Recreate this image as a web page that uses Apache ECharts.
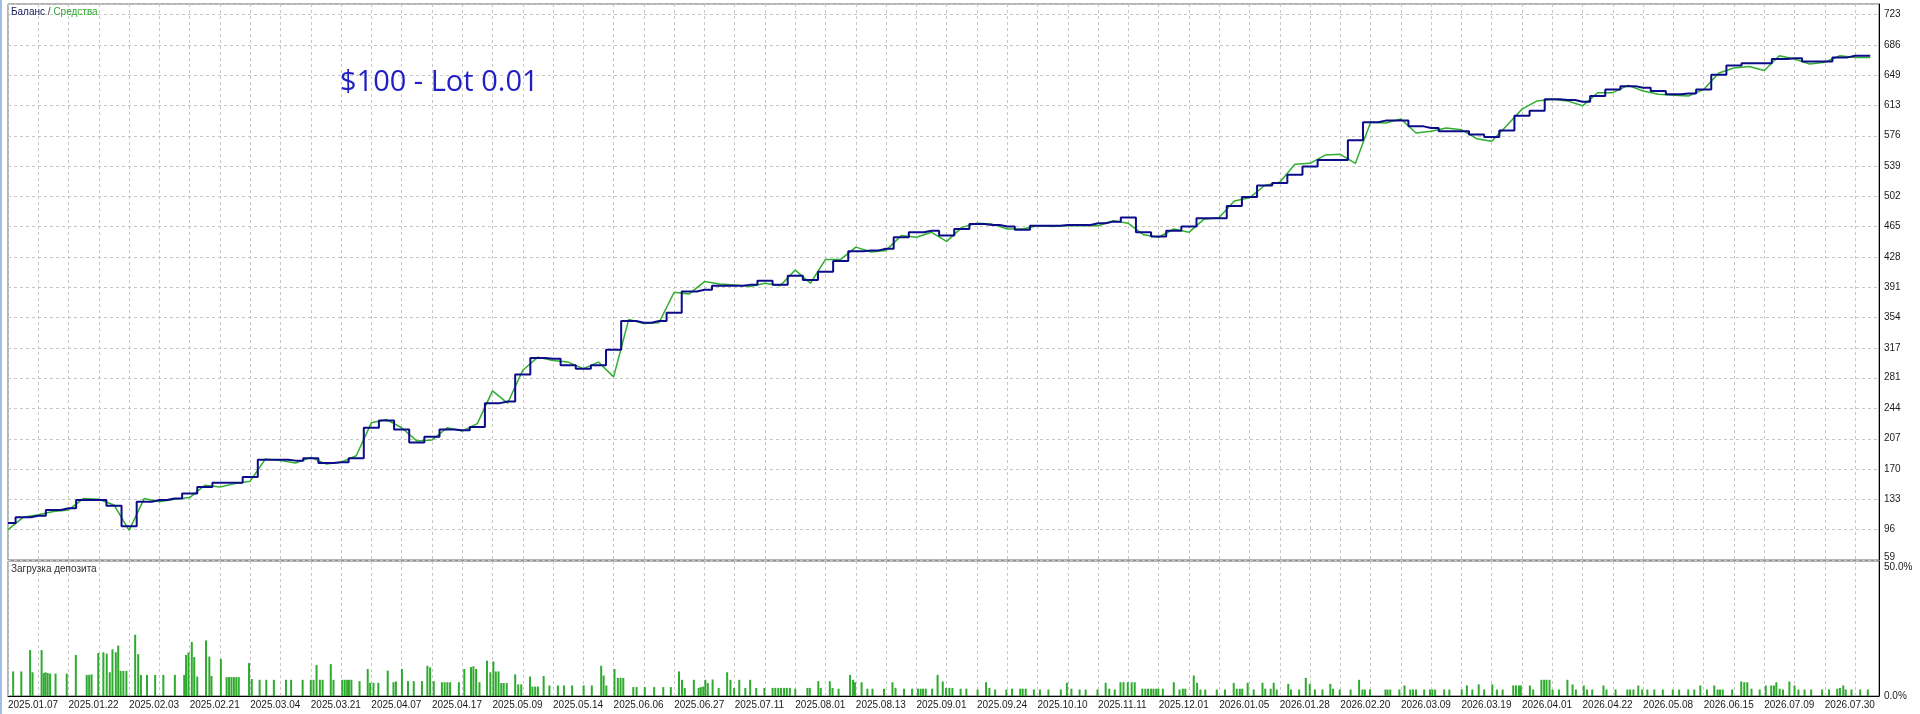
<!DOCTYPE html>
<html>
<head>
<meta charset="utf-8">
<script src="https://cdn.jsdelivr.net/npm/echarts@6/dist/echarts.min.js"></script>
<style>
html,body{margin:0;padding:0;background:#fff;}
#c{width:1920px;height:714px;}
</style>
</head>
<body>
<div id="c"></div>
<script>
// ---- tick labels ----
const dateLabels = ['2025.01.07','2025.01.22','2025.02.03','2025.02.21','2025.03.04','2025.03.21','2025.04.07','2025.04.17','2025.05.09','2025.05.14','2025.06.06','2025.06.27','2025.07.11','2025.08.01','2025.08.13','2025.09.01','2025.09.24','2025.10.10','2025.11.11','2025.12.01','2026.01.05','2026.01.28','2026.02.20','2026.03.09','2026.03.19','2026.04.01','2026.04.22','2026.05.08','2026.06.15','2026.07.09','2026.07.30'];
const yTicks = [59,96,133,170,207,244,281,317,354,391,428,465,502,539,576,613,649,686,723];

// ---- series (sampled every half grid cell) ----
const STEP = 0.5;
const balance = [104,111,113,120,122,132,132,125,100,130,
132,134,140,148,153,153,160,181,181,180,
183,177,178,183,220,229,218,202,209,218,
217,221,250,252,285,305,304,296,292,296,
315,350,348,350,360,386,388,393,393,394,
399,394,405,400,410,423,435,436,438,452,
458,460,454,462,468,467,465,461,466,466,
467,467,469,471,476,458,453,460,465,475,
475,490,501,515,518,528,538,546,546,570,
592,594,594,587,585,581,581,577,574,582,
600,606,620,619,617,624,632,636,634,630,
626,627,632,650,661,664,664,669,670,666,
666,671,673,673];
const equity = [96,111,114,118,120,134,133,126,95,134,
130,133,135,150,148,152,155,182,180,177,
184,176,178,186,226,230,220,204,205,220,
216,225,265,250,290,306,302,300,292,300,
282,352,347,348,385,383,398,395,394,392,
396,393,412,396,425,425,440,434,436,454,
452,458,447,464,469,468,462,462,466,465,
466,466,466,472,469,455,452,462,458,474,
476,496,500,515,519,541,542,552,553,542,
592,591,596,579,581,585,583,572,569,588,
608,618,620,618,612,628,628,637,630,626,
625,624,632,652,658,660,655,673,669,663,
665,673,671,671];

// ---- deposit load bars: position (grid cells) and load (%) ----
const loadPos = [0.17,0.44,0.73,0.81,1.11,1.18,1.24,1.31,1.39,1.57,1.94,2.24,2.60,2.68,2.76,2.98,3.15,3.26,3.36,3.45,
3.56,3.64,3.72,3.81,3.91,4.20,4.30,4.39,4.59,4.86,5.13,5.51,5.82,5.88,5.96,6.07,6.15,6.25,6.54,6.65,
6.72,7.03,7.22,7.30,7.38,7.46,7.54,7.62,7.96,8.05,8.31,8.53,8.78,9.18,9.35,9.73,10.00,10.09,10.19,10.30,
10.39,10.66,10.75,11.04,11.12,11.20,11.26,11.34,11.61,11.88,11.96,12.07,12.23,12.54,12.73,12.81,13.01,13.21,13.40,13.67,
13.85,13.94,14.06,14.33,14.42,14.51,14.60,14.89,15.07,15.29,15.37,15.46,15.57,15.82,15.93,16.03,16.11,16.20,16.29,16.37,
16.47,16.75,16.85,16.95,17.24,17.32,17.41,17.50,17.69,17.88,18.16,18.36,18.63,19.01,19.28,19.59,19.67,19.76,20.03,20.14,
20.23,20.32,20.65,20.76,
21.03,21.34,21.64,21.89,22.16,22.26,22.35,22.65,22.81,22.88,22.96,23.03,23.11,23.27,23.47,23.75,23.86,23.98,24.15,24.35,
24.51,24.71,24.98,25.25,25.34,25.44,25.53,25.63,25.72,25.82,26.00,26.40,26.48,26.76,26.84,27.14,27.23,27.43,27.81,27.91,
27.97,28.19,28.38,28.55,28.93,29.21,29.31,29.59,29.86,30.05,30.14,30.22,30.31,30.52,30.70,30.87,30.98,31.09,31.19,31.46,
31.65,32.02,32.30,32.41,32.60,32.97,33.16,33.43,33.51,33.61,33.88,34.08,34.36,34.77,34.97,35.12,35.39,35.59,35.98,36.25,
36.37,36.55,36.74,36.84,36.98,37.11,37.21,37.46,37.56,37.65,37.75,37.83,37.92,37.99,38.14,38.50,38.69,38.80,38.88,39.16,
39.27,39.38,39.54,39.92,40.19,40.48,40.58,40.68,40.76,40.94,41.14,41.43,41.52,41.70,41.80,41.90,
42.28,42.37,42.64,42.86,42.99,43.16,43.41,43.67,43.76,43.98,44.34,44.62,44.73,44.81,44.98,45.49,45.56,45.65,45.95,46.12,
46.31,46.40,46.50,46.77,46.96,47.04,47.13,47.43,47.60,48.01,48.18,48.36,48.57,48.75,49.02,49.17,49.36,49.71,49.80,49.90,
49.96,50.26,50.37,50.64,50.73,50.81,50.91,51.01,51.22,51.50,51.67,51.78,52.04,52.15,52.32,52.69,52.79,53.09,53.48,53.57,
53.68,53.84,53.97,54.14,54.37,54.65,54.98,55.19,55.49,55.69,55.89,56.11,56.35,56.46,56.54,56.63,56.94,57.24,57.34,57.44,
57.58,57.85,58.05,58.23,58.32,58.40,58.51,58.62,58.83,59.00,59.13,59.33,59.55,59.91,60.14,60.41,60.50,60.61,60.69,60.88,
61.17,61.42];
const loadPct = [9.1,9.1,17.0,8.8,17.0,8.5,8.8,8.5,8.3,8.3,8.3,15.2,7.8,7.8,8.0,15.9,16.2,15.7,8.8,17.3,
16.2,18.7,9.3,9.3,9.3,22.7,15.5,7.8,7.8,7.8,7.8,7.8,7.8,15.2,16.1,20.0,14.4,7.2,20.6,14.6,
7.4,13.7,7.0,7.0,7.0,7.0,7.0,7.0,12.2,6.3,6.0,6.0,6.0,6.0,6.0,6.0,6.0,6.0,11.5,6.0,
6.0,11.8,6.0,6.0,6.0,6.0,6.0,6.0,5.5,10.0,4.9,4.9,4.9,9.4,5.1,5.4,10.0,5.5,5.5,5.5,
11.2,10.6,5.5,5.1,5.1,5.1,5.1,5.1,10.0,10.7,11.0,10.0,5.1,13.1,8.8,12.8,9.1,9.1,4.8,4.8,
4.8,8.0,4.3,4.3,7.2,3.5,3.5,3.5,7.4,3.9,3.9,3.9,3.9,3.9,3.9,11.2,7.6,3.9,10.0,6.7,
6.7,6.7,3.3,3.3,
3.3,3.3,3.3,3.3,9.1,6.0,3.0,6.0,3.0,3.3,3.5,6.0,4.8,6.1,3.0,8.8,6.0,3.0,6.0,3.0,
6.0,3.0,3.0,3.0,3.0,3.0,3.0,3.0,3.0,3.0,2.7,3.0,3.0,5.5,3.0,5.5,3.0,2.7,7.8,6.0,
5.1,5.1,2.7,2.7,2.7,5.1,3.0,2.7,2.7,2.7,2.7,2.7,2.7,2.7,7.8,5.4,3.0,3.0,3.0,2.7,
2.7,2.4,5.1,3.0,2.4,2.4,2.7,2.7,2.7,2.7,2.4,2.4,2.4,2.4,4.9,2.7,2.4,2.4,2.4,4.9,
2.7,2.4,5.1,5.1,5.1,5.1,5.1,2.7,2.7,2.7,2.7,2.7,2.7,2.7,2.7,5.1,2.4,2.7,2.7,7.6,
4.9,2.4,2.4,2.4,2.4,4.8,2.7,2.7,2.7,4.9,2.4,4.9,2.7,2.7,4.9,2.4,
4.5,2.4,2.4,6.7,4.5,2.4,2.4,4.5,2.7,2.4,2.4,6.0,2.4,2.4,2.4,2.4,2.4,2.4,2.4,3.9,
2.4,2.4,2.4,2.4,2.4,2.4,2.4,2.4,2.4,2.4,3.9,2.4,4.3,2.4,4.3,2.4,2.4,3.9,3.9,3.9,
3.9,3.9,2.4,6.0,6.0,6.0,6.0,2.4,2.4,6.0,4.3,2.4,3.9,2.4,2.4,3.9,2.4,2.4,2.4,2.4,
2.4,3.9,2.4,2.4,2.4,2.4,2.4,2.4,2.4,2.4,3.9,2.4,3.9,2.4,2.4,2.4,2.4,5.4,5.1,5.1,
2.7,2.4,3.9,3.9,3.9,5.1,2.7,2.4,5.4,3.9,2.4,2.4,2.4,2.4,2.4,2.7,3.0,3.9,2.4,2.4,
2.4,2.4];

// ---- layout constants ----
const GRID_CELLS = 61.79;      // plot width measured in grid cells
const Y_MIN = 59, Y_MAX = 736, Y_STEP = 36.889;

const chart = echarts.init(document.getElementById('c'), null, {renderer: 'canvas', width: 1920, height: 714});
const dashed = {show: true, lineStyle: {color: '#c6c6c6', type: [3, 3], width: 1}};
const labelFont = {fontFamily: 'Liberation Sans', fontSize: 10, color: '#1a1a1a'};
const smallText = {fontFamily: 'Liberation Sans', fontSize: 10, fontWeight: 'normal'};

const option = {
  animation: false,
  backgroundColor: '#ffffff',
  textStyle: {fontFamily: 'Liberation Sans'},
  title: [
    {text: '{a|Баланс} {s|/} {b|Средства}', left: 11, top: 7, padding: 0,
     textStyle: {fontWeight: 'normal', fontSize: 10, rich: {
       a: Object.assign({color: '#202060'}, smallText),
       s: Object.assign({color: '#404040'}, smallText),
       b: Object.assign({color: '#2ea82e'}, smallText)}}},
    {text: 'Загрузка депозита', left: 11, top: 564, padding: 0,
     textStyle: Object.assign({color: '#303030'}, smallText)},
    {text: '$100 - Lot 0.01', left: 340, top: 68, padding: 0,
     textStyle: {color: '#1f1fc4', fontSize: 29, fontWeight: 'normal', fontFamily: 'Open Sans'}}
  ],
  graphic: [
    {type: 'rect', shape: {x: 0, y: 0, width: 2, height: 714}, style: {fill: '#9fbfe4'}, silent: true}
  ],
  grid: [
    {left: 8, right: 41, top: 4, height: 556, show: true, borderColor: '#6a6a6a', borderWidth: 1},
    {left: 8, right: 41, top: 561, height: 135, show: true, borderColor: '#6a6a6a', borderWidth: 1}
  ],
  xAxis: [
    {type: 'value', gridIndex: 0, min: 0, max: GRID_CELLS, interval: 1,
     axisLine: {show: false}, axisTick: {show: false}, axisLabel: {show: false}, splitLine: dashed},
    {type: 'value', gridIndex: 1, min: 0, max: GRID_CELLS, interval: 1,
     axisLine: {show: true, onZero: false, lineStyle: {color: '#000', width: 1}}, axisTick: {show: false},
     axisLabel: Object.assign({show: true, align: 'left', margin: 4, showMaxLabel: false,
       formatter: v => (Number.isInteger(v) && v % 2 === 0 && dateLabels[v / 2]) ? dateLabels[v / 2] : ''}, labelFont),
     splitLine: dashed}
  ],
  yAxis: [
    {type: 'value', gridIndex: 0, position: 'right', min: Y_MIN, max: Y_MAX,
     axisLine: {show: true, onZero: false, lineStyle: {color: '#000', width: 1}},
     axisTick: {show: false, customValues: yTicks},
     axisLabel: Object.assign({customValues: yTicks, margin: 5,
       formatter: v => v === 59 ? '{b|59}' : String(v),
       rich: {b: {fontFamily: 'Liberation Sans', fontSize: 10, color: '#1a1a1a', padding: [0, 0, 6, 0]}}}, labelFont),
     splitLine: {show: false}},
    {type: 'value', gridIndex: 0, position: 'right', min: 0, max: (Y_MAX - Y_MIN) / Y_STEP, interval: 1,
     axisLine: {show: false}, axisTick: {show: false}, axisLabel: {show: false}, splitLine: dashed},
    {type: 'value', gridIndex: 1, position: 'right', min: 0, max: 50, interval: 50,
     axisLine: {show: true, onZero: false, lineStyle: {color: '#000', width: 1}}, axisTick: {show: false},
     axisLabel: Object.assign({margin: 5,
       formatter: v => v === 50 ? '{t|50.0%}' : v.toFixed(1) + '%',
       rich: {t: {fontFamily: 'Liberation Sans', fontSize: 10, color: '#1a1a1a', padding: [12, 0, 0, 0]}}}, labelFont),
     splitLine: {show: false}}
  ],
  series: [
    {type: 'line', name: 'Средства', xAxisIndex: 0, yAxisIndex: 0, symbol: 'none', z: 2,
     data: equity.map((v, i) => [i * STEP, v]), lineStyle: {color: '#2fae2f', width: 1.5}},
    {type: 'line', name: 'Баланс', xAxisIndex: 0, yAxisIndex: 0, symbol: 'none', z: 3, step: 'middle',
     data: balance.map((v, i) => [i * STEP, v]), lineStyle: {color: '#0c0c8a', width: 2}},
    {type: 'bar', name: 'Загрузка депозита', xAxisIndex: 1, yAxisIndex: 2, barWidth: 2,
     data: loadPos.map((p, i) => [p, loadPct[i]]), itemStyle: {color: '#2faa2f'}}
  ]
};
chart.setOption(option);
</script>
</body>
</html>
